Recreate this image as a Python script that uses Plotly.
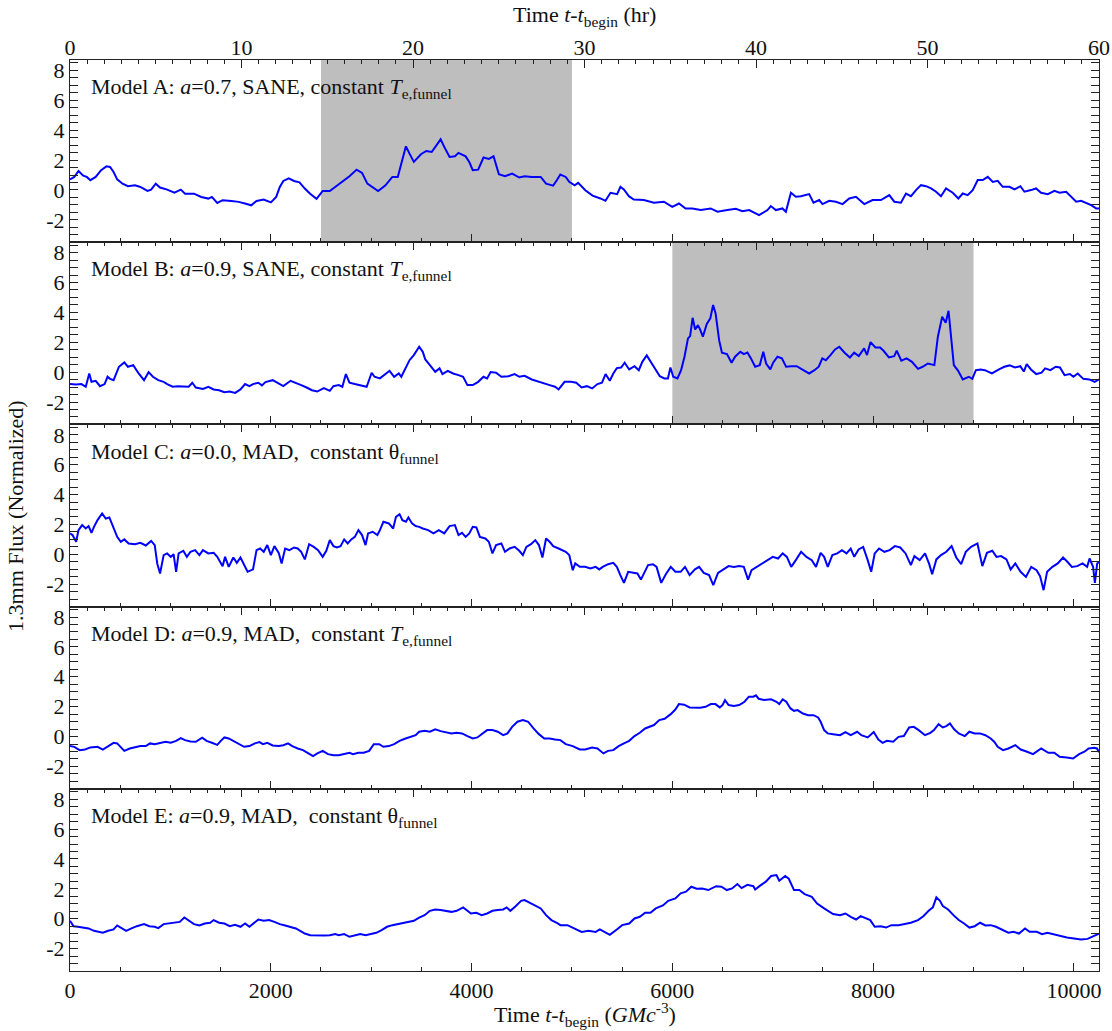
import plotly.graph_objects as go
from plotly.subplots import make_subplots

# Time axis limits: simulation units (GM/c^3) on the bottom, hours on the top
T_MAX = 10250.0
HR_MAX = 60.0
Y_RANGE = [-3.5, 8.7]

# ---------------- Model A ----------------
t_a = [0, 43, 85, 132, 167, 203, 256, 310, 363, 399, 434, 470, 523, 577, 648, 701, 772, 808, 854, 897,
       968, 1040, 1104, 1146, 1235, 1307, 1378, 1413, 1467, 1520, 1609, 1680, 1752, 1805, 1858, 1930, 2001, 2054, 2090, 2125,
       2179, 2232, 2286, 2339, 2392, 2456, 2481, 2517, 2588, 2642, 2713, 2784, 2855, 2909, 2962, 3069, 3140, 3211, 3265, 3300,
       3346, 3382, 3425, 3496, 3549, 3603, 3656, 3692, 3728, 3781, 3834, 3870, 3941, 3977, 4012, 4066, 4119, 4172, 4219, 4272,
       4333, 4404, 4475, 4528, 4600, 4689, 4742, 4813, 4849, 4884, 4938, 4973, 5027, 5062, 5133, 5205,
       5284, 5334, 5384, 5450, 5483, 5517, 5567, 5616, 5716, 5816, 5916, 5999, 6066, 6132, 6199, 6283, 6382, 6449, 6548, 6632,
       6698, 6765, 6864, 6948, 6981, 7031, 7097, 7131, 7181, 7230, 7280, 7330, 7363, 7406, 7463, 7496, 7563, 7629, 7696, 7762,
       7829, 7912, 7995, 8078, 8161, 8211, 8277, 8327, 8377, 8427, 8477, 8527, 8577, 8627, 8676, 8726, 8793, 8849, 8893, 8942,
       8992, 9042, 9092, 9142, 9192, 9241, 9291, 9358, 9408, 9467, 9507, 9573, 9623, 9673, 9740, 9806, 9856, 9923, 9973, 10023,
       10072, 10122, 10172, 10222, 10250]
flux_a = [0.70, 0.87, 1.27, 0.96, 0.87, 0.65, 0.87, 1.32, 1.58, 1.54, 1.20, 0.71, 0.42, 0.25, 0.31, 0.20, -0.07, 0.02, 0.42, 0.16,
          0.02, -0.18, 0.02, -0.25, -0.25, -0.47, -0.58, -0.47, -0.87, -0.69, -0.74, -0.80, -0.92, -1.03, -0.74, -0.65, -0.83, -0.47, 0.20, 0.60,
          0.78, 0.60, 0.51, 0.09, -0.25, -0.60, -0.38, -0.07, -0.07, 0.20, 0.54, 0.92, 1.36, 1.14, 0.42, -0.07, 0.29, 0.87, 0.87, 1.76,
          2.92, 2.43, 1.88, 2.39, 2.61, 2.54, 3.10, 3.39, 2.88, 2.21, 2.25, 2.48, 2.25, 1.88, 1.32, 1.36, 2.17, 2.08, 2.25, 1.05,
          0.92, 1.09, 0.83, 0.92, 0.87, 0.87, 0.42, 0.29, 0.65, 1.03, 0.87, 0.54, 0.31, 0.47, -0.02, -0.38,
          -0.57, -0.73, -0.19, -0.28, 0.21, 0.03, -0.42, -0.64, -0.68, -0.86, -0.79, -1.13, -0.91, -1.24, -1.24, -1.35, -1.24, -1.46, -1.35, -1.26,
          -1.42, -1.35, -1.69, -1.35, -1.08, -1.35, -1.24, -1.46, -0.19, -0.46, -0.42, -0.35, -0.28, -0.86, -0.68, -0.95, -0.73, -0.79, -0.95, -0.57,
          -0.46, -0.95, -0.68, -0.68, -0.35, -0.79, -0.86, -0.24, -0.42, -0.01, 0.32, 0.25, 0.10, -0.12, -0.42, 0.10, -0.19, -0.57, -0.24, -0.35,
          -0.01, 0.66, 0.66, 0.88, 0.54, 0.61, 0.21, 0.21, 0.03, 0.25, -0.12, -0.01, 0.10, -0.19, -0.28, -0.06, -0.19, -0.12, -0.46, -0.79,
          -0.73, -0.86, -1.02, -1.24, -1.24]

# ---------------- Model B ----------------
t_b = [0, 61, 114, 157, 192, 214, 256, 299, 345, 374, 399, 434, 488, 541, 577, 630, 684, 737, 783, 826,
       879, 933, 968, 1022, 1075, 1129, 1182, 1218, 1253, 1324, 1378, 1431, 1485, 1538, 1591, 1645, 1698, 1744, 1787, 1823,
       1876, 1912, 1947, 2019, 2072, 2125, 2197, 2250, 2303, 2357, 2410, 2463, 2528, 2588, 2624, 2677, 2713, 2748, 2784, 2837,
       2909, 2955, 3005, 3033, 3087, 3147, 3183, 3229, 3275, 3300, 3336, 3382, 3425, 3478, 3514, 3539, 3585, 3638, 3681, 3710,
       3763, 3816, 3870, 3916, 3959, 4012, 4066, 4119, 4155, 4190, 4244, 4297, 4368, 4429, 4475, 4528, 4600, 4671, 4724, 4778,
       4831, 4867,
       4927, 4991, 5043, 5096, 5149, 5201, 5254, 5299, 5335, 5377, 5412, 5447, 5490, 5525, 5570, 5623, 5666, 5701, 5745, 5791,
       5833, 5875, 5921, 5956, 5981, 6009, 6051, 6087, 6121, 6156, 6177, 6202, 6227, 6255, 6276, 6304, 6343, 6378, 6406, 6431,
       6466, 6494, 6544, 6590, 6625, 6677, 6713, 6748, 6783, 6825, 6871, 6906, 6934, 6976, 7004, 7047, 7091, 7133, 7186, 7239,
       7292, 7363, 7416, 7458, 7494, 7529, 7575, 7621, 7663, 7716, 7769, 7811, 7857, 7910, 7939, 7974, 8023, 8069, 8104, 8157,
       8210, 8235, 8281, 8334, 8387, 8447, 8493, 8546, 8610, 8645, 8688, 8723, 8751, 8776, 8804, 8847, 8893, 8953, 8988, 9024,
       9070, 9113, 9183, 9254, 9307, 9360, 9413, 9466, 9501, 9530, 9572, 9625, 9678, 9713, 9766, 9819, 9861, 9907, 9960, 9995,
       10038, 10094, 10154, 10207, 10250]
flux_b = [-0.80, -0.83, -0.80, -0.98, -0.09, -0.65, -0.58, -0.94, -0.80, -0.31, -0.45, -0.54, 0.36, 0.65, 0.36, 0.47, -0.09, -0.54, 0.00, -0.31,
          -0.54, -0.65, -0.80, -0.98, -0.94, -0.98, -0.98, -0.71, -1.03, -1.12, -0.98, -1.16, -1.21, -1.34, -1.30, -1.39, -1.16, -0.80, -0.94, -0.80,
          -0.71, -0.89, -0.67, -0.54, -0.76, -0.94, -0.58, -0.71, -0.87, -1.03, -1.21, -1.30, -1.07, -1.25, -0.94, -0.87, -0.98, -0.13, -0.71, -0.80,
          -0.94, -0.98, -0.04, -0.31, -0.42, -0.09, 0.09, -0.31, -0.09, -0.31, 0.18, 0.80, 1.14, 1.70, 1.36, 0.85, 0.47, 0.02, 0.25, -0.13,
          0.09, -0.09, -0.20, -0.31, -0.87, -0.87, -0.65, -0.31, -0.42, 0.00, -0.04, -0.31, -0.27, -0.13, -0.31, -0.25, -0.49, -0.65, -0.80, -0.87,
          -0.98, -1.16,
          -0.65, -0.65, -0.71, -1.03, -0.94, -1.09, -0.80, -0.71, -0.13, -0.58, -0.09, 0.27, 0.31, 0.63, 0.18, 0.40, 0.13, 0.69, 1.12, 0.63,
          0.13, -0.27, -0.42, -0.42, 0.31, -0.31, -0.42, 0.13, 1.03, 2.26, 2.41, 3.64, 2.86, 3.15, 2.86, 2.37, 3.22, 3.60, 4.49, 3.93,
          2.14, 1.30, 1.21, 0.63, 1.03, 1.36, 1.21, 1.32, 0.92, 0.36, 0.47, 1.36, 0.58, 0.18, 0.63, 1.03, 0.92, 0.36, 0.40, 0.40,
          0.18, -0.09, 0.13, 0.36, 0.92, 0.80, 1.14, 1.52, 1.70, 1.30, 0.98, 1.30, 1.07, 1.59, 1.14, 2.01, 1.65, 1.65, 1.43, 0.98,
          1.07, 1.43, 0.76, 0.92, 0.69, 0.22, 0.36, 0.58, 0.47, 2.37, 3.71, 3.31, 4.11, 2.14, 0.47, 0.09, -0.49, -0.31, -0.45, 0.13,
          0.18, 0.13, -0.09, 0.18, 0.36, 0.45, 0.31, 0.40, 0.04, 0.54, 0.18, -0.13, -0.04, 0.25, 0.13, 0.36, 0.31, -0.20, -0.13, -0.31,
          -0.09, -0.45, -0.49, -0.65, -0.49]

# ---------------- Model C ----------------
t_c = [0, 25, 61, 85, 121, 157, 185, 214, 239, 274, 320, 356, 392, 427, 470, 506, 541, 584, 648, 701,
       755, 808, 844, 869, 897, 933, 968, 1004, 1032, 1057, 1082, 1129, 1164, 1200, 1246, 1289, 1324, 1378, 1431, 1467,
       1520, 1545, 1581, 1627, 1662, 1698, 1734, 1769, 1823, 1858, 1894, 1930, 1965, 2001, 2036, 2079, 2108, 2143, 2186, 2232,
       2268, 2303, 2339, 2382, 2428, 2471, 2517, 2553, 2588, 2624, 2659, 2695, 2731, 2766, 2802, 2837, 2873, 2909, 2944, 2969,
       3015, 3062, 3087, 3122, 3176, 3219, 3247, 3283, 3311, 3346, 3371, 3407, 3443, 3478, 3514, 3567, 3621, 3674, 3728, 3781,
       3834, 3870, 3905, 3941, 3977, 4012, 4048, 4083, 4137, 4172, 4208, 4244, 4297, 4333, 4379, 4429, 4475, 4511, 4546, 4592,
       4635, 4671, 4706, 4742, 4778, 4813, 4867,
       4938, 4973, 5008, 5033, 5078, 5131, 5184, 5236, 5272, 5307, 5360, 5412, 5447, 5482, 5518, 5560, 5606, 5652, 5687, 5723,
       5758, 5807, 5843, 5889, 5935, 5984, 6030, 6083, 6126, 6172, 6225, 6267, 6313, 6366, 6408, 6455, 6507, 6560, 6613, 6666,
       6712, 6754, 6789, 6842, 6895, 6948, 7000, 7053, 7099, 7141, 7184, 7230, 7283, 7336, 7389, 7431, 7477, 7512, 7548, 7594,
       7643, 7689, 7735, 7777, 7812, 7855, 7901, 7946, 7981, 8016, 8059, 8112, 8164, 8217, 8270, 8323, 8376, 8411, 8464, 8517,
       8559, 8588, 8630, 8676, 8729, 8782, 8828, 8877, 8923, 8976, 9039, 9088, 9134, 9187, 9229, 9275, 9328, 9370, 9416, 9469,
       9522, 9575, 9628, 9663, 9698, 9733, 9786, 9839, 9892, 9935, 9980, 10033, 10086, 10132, 10156, 10191, 10209, 10232, 10250]
flux_c = [1.40, 1.29, 0.84, 1.62, 1.96, 1.73, 1.89, 1.44, 1.84, 2.29, 2.74, 2.40, 2.47, 1.84, 1.17, 0.84, 1.00, 0.73, 0.68, 0.77,
          0.59, 0.90, 0.62, -0.61, -1.28, -0.05, 0.06, -0.17, 0.01, -1.17, 0.06, 0.24, -0.17, 0.17, 0.28, -0.05, 0.28, 0.06, 0.10, -0.17,
          -0.79, -0.17, -0.84, -0.21, -0.57, -0.21, -0.66, -1.17, -1.01, 0.28, 0.39, 0.17, 0.62, -0.05, 0.55, 0.10, -0.61, 0.39, 0.28, 0.46,
          0.39, 0.17, -0.34, 0.68, 0.50, 0.28, -0.17, 0.24, 0.95, 0.55, 0.46, 0.55, 1.00, 0.73, 1.00, 1.17, 1.62, 1.29, 0.62, 1.40,
          1.51, 1.29, 1.62, 2.18, 2.07, 1.73, 2.51, 2.69, 2.29, 2.18, 2.47, 2.07, 1.89, 1.84, 1.73, 1.62, 1.40, 1.62, 1.40, 1.89,
          1.96, 1.29, 1.44, 1.17, 1.40, 1.84, 1.80, 1.17, 1.06, 0.84, 0.06, 0.62, 0.73, 0.17, 0.39, 0.50, 0.24, -0.05, 0.50, 0.68,
          0.95, 0.62, -0.21, 1.06, 0.84, 0.55, 0.39,
          0.17, -0.05, -1.06, -0.61, -0.84, -0.84, -0.95, -0.84, -1.01, -0.84, -0.66, -0.57, -0.84, -1.39, -1.91, -1.17, -1.24, -1.28, -1.69, -1.24,
          -0.72, -0.66, -0.84, -1.91, -1.33, -0.84, -1.17, -1.17, -0.84, -1.39, -1.01, -0.84, -1.24, -1.39, -2.06, -1.24, -1.01, -0.79, -0.84, -0.79,
          -0.84, -1.69, -1.06, -0.84, -0.66, -0.43, -0.17, -0.28, 0.06, -0.17, -0.84, -0.39, 0.17, -0.17, -0.39, -0.84, 0.10, -0.17, -0.84, -0.05,
          0.06, 0.28, 0.06, 0.39, -0.17, 0.33, 0.50, -0.39, -1.17, 0.06, 0.39, 0.17, 0.28, 0.55, 0.46, 0.06, -0.72, -0.12, -0.39, 0.06,
          -0.66, -1.33, -0.34, -0.05, 0.17, 0.55, -0.21, -0.66, 0.17, 0.50, 0.73, -0.79, 0.10, 0.24, -0.17, -0.12, -0.34, -1.01, -0.61, -1.17,
          -1.51, -0.84, -1.06, -1.46, -2.40, -1.17, -0.84, -0.61, -0.21, -0.50, -0.84, -0.79, -0.61, -0.84, -0.28, -0.84, -1.91, -0.61, -0.50]

# ---------------- Model D ----------------
t_d = [0, 43, 96, 150, 203, 274, 327, 381, 434, 470, 513, 541, 595, 648, 701, 755, 797, 844, 897, 951,
       1004, 1057, 1104, 1146, 1200, 1253, 1317, 1360, 1413, 1467, 1502, 1538, 1581, 1627, 1680, 1734, 1787, 1841, 1887, 1922,
       1965, 2019, 2079, 2125, 2172, 2214, 2268, 2321, 2375, 2421, 2464, 2517, 2570, 2624, 2677, 2731, 2784, 2819, 2873, 2926,
       2980, 3026, 3080, 3122, 3176, 3229, 3283, 3336, 3390, 3443, 3478, 3532, 3585, 3638, 3692, 3745, 3799, 3852, 3905, 3959,
       4012, 4058, 4101, 4155, 4208, 4261, 4315, 4358, 4404, 4457, 4511, 4564, 4617, 4671, 4724, 4778, 4831,
       4885, 4938, 5008, 5078, 5131, 5201, 5254, 5314, 5359, 5412, 5465, 5518, 5570, 5623, 5676, 5729, 5782, 5817, 5870, 5923,
       5984, 6030, 6065, 6118, 6172, 6225, 6278, 6331, 6383, 6429, 6472, 6500, 6525, 6560, 6613, 6666, 6719, 6762, 6808, 6832,
       6860, 6913, 6984, 7037, 7065, 7099, 7135, 7177, 7212, 7248, 7300, 7353, 7406, 7452, 7477, 7512, 7548, 7601, 7671, 7724,
       7777, 7841, 7883, 7946, 8006, 8052, 8095, 8137, 8200, 8253, 8306, 8359, 8405, 8454, 8517, 8570, 8606, 8652, 8694, 8729,
       8765, 8807, 8853, 8913, 8959, 9012, 9065, 9118, 9171, 9206, 9241, 9294, 9347, 9417, 9470, 9534, 9593, 9674, 9745, 9805,
       9858, 9928, 9992, 10052, 10105, 10147, 10203, 10230, 10250]
flux_d = [-0.64, -0.69, -0.91, -0.87, -0.73, -0.69, -0.87, -0.64, -0.42, -0.46, -0.80, -0.96, -0.80, -0.73, -0.64, -0.64, -0.46, -0.51, -0.42, -0.35,
          -0.42, -0.29, -0.11, -0.24, -0.33, -0.35, -0.08, -0.29, -0.42, -0.56, -0.29, -0.06, -0.13, -0.29, -0.46, -0.69, -0.64, -0.46, -0.37, -0.51,
          -0.42, -0.60, -0.64, -0.58, -0.46, -0.64, -0.80, -0.91, -1.13, -1.31, -1.13, -0.96, -1.18, -1.25, -1.25, -1.18, -1.09, -1.18, -1.09, -1.09,
          -0.96, -0.51, -0.51, -0.69, -0.64, -0.51, -0.29, -0.15, -0.02, 0.09, 0.32, 0.39, 0.32, 0.48, 0.36, 0.27, 0.21, 0.25, 0.21, 0.03,
          -0.13, -0.06, 0.16, 0.43, 0.43, 0.32, 0.09, 0.21, 0.65, 0.99, 1.10, 0.99, 0.54, 0.16, -0.13, -0.13, -0.20,
          -0.24, -0.51, -0.64, -0.87, -0.87, -0.73, -0.80, -1.13, -0.96, -0.91, -0.64, -0.46, -0.29, 0.03, 0.25, 0.54, 0.70, 0.77, 1.10, 1.19,
          1.50, 1.81, 2.17, 2.13, 1.95, 1.95, 1.93, 1.99, 2.17, 2.17, 1.95, 2.11, 2.44, 2.11, 2.04, 2.11, 2.33, 2.67, 2.67, 2.76,
          2.53, 2.44, 2.49, 2.33, 2.17, 2.49, 2.33, 1.88, 1.72, 1.77, 1.54, 1.43, 1.43, 1.28, 0.99, 0.43, 0.21, 0.16, 0.09, 0.30,
          0.09, 0.32, 0.09, -0.06, 0.30, -0.20, -0.42, -0.29, -0.35, -0.02, 0.03, 0.61, 0.65, 0.43, 0.09, 0.25, 0.43, 0.83, 0.61, 0.70,
          0.88, 0.48, 0.21, 0.03, 0.32, 0.21, 0.21, 0.09, -0.13, -0.35, -0.69, -0.91, -0.80, -0.58, -0.87, -1.02, -1.18, -0.80, -1.09, -1.09,
          -1.36, -1.40, -1.47, -1.18, -1.02, -0.80, -0.76, -0.80, -1.05]

# ---------------- Model E ----------------
t_e = [0, 36, 78, 132, 185, 239, 292, 327, 381, 434, 470, 506, 559, 612, 666, 737, 790, 844, 879, 933,
       986, 1040, 1093, 1139, 1182, 1235, 1289, 1342, 1396, 1431, 1485, 1538, 1591, 1645, 1698, 1744, 1787, 1841, 1876, 1930,
       1983, 2036, 2090, 2143, 2197, 2250, 2293, 2339, 2392, 2463, 2535, 2588, 2642, 2677, 2731, 2784, 2837, 2891, 2944, 2998,
       3051, 3104, 3158, 3211, 3265, 3318, 3371, 3425, 3478, 3532, 3585, 3638, 3692, 3745, 3799, 3852, 3916, 3959, 3994, 4048,
       4101, 4155, 4208, 4261, 4315, 4350, 4386, 4439, 4493, 4528, 4582, 4635, 4689, 4742, 4795, 4849,
       4885, 4955, 5025, 5096, 5166, 5236, 5278, 5324, 5377, 5447, 5500, 5570, 5623, 5676, 5729, 5782, 5835, 5906, 5959, 6030,
       6083, 6136, 6189, 6242, 6295, 6359, 6436, 6489, 6542, 6595, 6648, 6690, 6747, 6807, 6825, 6878, 6931, 6984, 7037, 7065,
       7099, 7124, 7160, 7212, 7265, 7318, 7389, 7442, 7512, 7601, 7671, 7724, 7777, 7830, 7876, 7926, 7971, 8016, 8076, 8129,
       8182, 8253, 8323, 8376, 8447, 8500, 8553, 8595, 8630, 8666, 8694, 8747, 8800, 8853, 8906, 8959, 9012, 9065, 9118, 9171,
       9224, 9277, 9347, 9400, 9453, 9513, 9559, 9630, 9683, 9736, 9789, 9859, 9930, 10001, 10072, 10136, 10196, 10250]
flux_e = [-0.14, -0.50, -0.54, -0.59, -0.65, -0.81, -0.88, -0.94, -0.81, -0.72, -0.45, -0.59, -0.81, -0.65, -0.50, -0.36, -0.50, -0.54, -0.63, -0.36,
          -0.32, -0.27, -0.21, 0.08, -0.14, -0.36, -0.45, -0.32, -0.27, -0.09, -0.27, -0.32, -0.50, -0.41, -0.54, -0.32, -0.54, -0.21, -0.05, -0.14,
          -0.09, -0.21, -0.36, -0.45, -0.54, -0.65, -0.81, -0.99, -1.10, -1.12, -1.12, -1.10, -1.03, -1.10, -1.03, -1.21, -1.12, -1.03, -1.10, -1.03,
          -0.94, -0.76, -0.54, -0.43, -0.36, -0.32, -0.21, -0.14, 0.08, 0.24, 0.53, 0.62, 0.58, 0.53, 0.46, 0.53, 0.76, 0.53, 0.35, 0.40,
          0.24, 0.35, 0.53, 0.58, 0.62, 0.76, 0.53, 0.84, 1.20, 1.25, 1.07, 0.84, 0.69, 0.24, -0.09, -0.27,
          -0.43, -0.43, -0.65, -0.88, -0.81, -0.88, -0.72, -0.88, -1.08, -0.72, -0.43, -0.32, 0.02, 0.13, 0.40, 0.40, 0.69, 0.89, 1.20, 1.36,
          1.70, 1.81, 2.14, 2.01, 2.03, 1.92, 2.18, 2.14, 1.92, 2.03, 2.32, 2.05, 2.27, 2.18, 1.96, 2.23, 2.48, 2.86, 2.92, 2.54,
          2.70, 2.86, 2.68, 1.92, 1.92, 1.65, 1.47, 1.02, 0.69, 0.31, 0.24, 0.35, 0.13, -0.05, 0.17, 0.02, -0.09, -0.54, -0.50, -0.59,
          -0.43, -0.43, -0.36, -0.27, -0.09, 0.17, 0.53, 0.76, 1.43, 1.20, 0.85, 0.62, 0.24, -0.09, -0.32, -0.59, -0.50, -0.27, -0.45, -0.43,
          -0.54, -0.72, -0.94, -0.88, -0.99, -0.65, -0.88, -0.88, -1.03, -0.94, -1.03, -1.17, -1.26, -1.32, -1.39, -1.35, -1.17, -1.00]

# Panel labels and highlighted time windows
labels = [
    "Model A: <i>a</i>=0.7, SANE, constant <i>T</i><sub>e,funnel</sub>",
    "Model B: <i>a</i>=0.9, SANE, constant <i>T</i><sub>e,funnel</sub>",
    "Model C: <i>a</i>=0.0, MAD,\u00a0 constant \u03b8<sub>funnel</sub>",
    "Model D: <i>a</i>=0.9, MAD,\u00a0 constant <i>T</i><sub>e,funnel</sub>",
    "Model E: <i>a</i>=0.9, MAD,\u00a0 constant \u03b8<sub>funnel</sub>",
]
shade_windows = {1: (2500, 5000), 2: (6000, 9000)}

y_tickvals = [-2, 0, 2, 4, 6, 8]
y_ticktext = ["-2", "0", "2", "4", "6", "8"]

series = [(t_a, flux_a), (t_b, flux_b), (t_c, flux_c), (t_d, flux_d), (t_e, flux_e)]

FONT = "Liberation Serif, Times New Roman, serif"
INK = "#222222"
TXT = "#111111"
FS = 22
N = len(series)

fig = make_subplots(rows=N, cols=1, shared_xaxes=True, vertical_spacing=0)

for i, (tt, ff) in enumerate(series, start=1):
    fig.add_trace(go.Scatter(x=tt, y=ff, mode="lines",
                             line=dict(color="#0000ff", width=2),
                             showlegend=False, hoverinfo="skip"),
                  row=i, col=1)
    if i in shade_windows:
        x0, x1 = shade_windows[i]
        fig.add_vrect(x0=x0, x1=x1, row=i, col=1, fillcolor="#bebebe",
                      opacity=1, line_width=0, layer="below")
    fig.add_annotation(text=labels[i - 1], x=0.018, y=0.845,
                       xref="x domain", yref="y domain", row=i, col=1,
                       xanchor="left", yanchor="middle", showarrow=False,
                       font=dict(family=FONT, size=FS, color=TXT))

# Simulation-time axes (bottom of each panel)
for i in range(1, N + 1):
    fig.update_xaxes(row=i, col=1, range=[0, T_MAX], tickmode="linear", tick0=0, dtick=2000,
                     tickformat="d",
                     ticks="inside", ticklen=8, tickwidth=1, tickcolor=INK,
                     minor=dict(tickmode="linear", tick0=0, dtick=500, ticks="inside",
                                ticklen=4, tickwidth=1, tickcolor=INK),
                     showline=True, linecolor=INK, linewidth=1, mirror=True,
                     showgrid=False, zeroline=False, automargin=False,
                     showticklabels=(i == N),
                     tickfont=dict(family=FONT, size=FS, color=TXT))
    fig.update_yaxes(row=i, col=1, range=Y_RANGE, tickmode="array",
                     tickvals=y_tickvals, ticktext=y_ticktext,
                     ticks="inside", ticklen=8, tickwidth=1, tickcolor=INK,
                     minor=dict(tickmode="linear", tick0=0, dtick=0.5, ticks="inside",
                                ticklen=4, tickwidth=1, tickcolor=INK),
                     showline=True, linecolor=INK, linewidth=1, mirror="allticks",
                     showgrid=False, zeroline=False, automargin=False,
                     tickfont=dict(family=FONT, size=FS, color=TXT))

# Hour axes along the top of each panel
for i in range(1, N + 1):
    ax_id = N + i
    fig.add_trace(go.Scatter(x=[None], y=[None], xaxis=f"x{ax_id}", yaxis=f"y{i}",
                             showlegend=False, hoverinfo="skip"))
    ax = dict(overlaying=f"x{i}", anchor=f"y{i}", side="top", range=[0, HR_MAX],
              tickmode="linear", tick0=0, dtick=10, ticks="inside", ticklen=8,
              tickwidth=1, tickcolor=INK,
              minor=dict(tickmode="linear", tick0=0, dtick=1, ticks="inside",
                         ticklen=4, tickwidth=1, tickcolor=INK),
              showline=False, showgrid=False, zeroline=False, automargin=False,
              showticklabels=(i == 1),
              tickfont=dict(family=FONT, size=FS, color=TXT))
    fig.update_layout(**{f"xaxis{ax_id}": ax})

# Axis titles
title_font = dict(family=FONT, size=FS, color=TXT)
fig.add_annotation(text="Time <i>t</i>-<i>t</i><sub>begin</sub> (<i>GMc</i><sup>-3</sup>)",
                   xref="paper", yref="paper", x=0.5, y=-0.0659,
                   xanchor="center", yanchor="bottom", showarrow=False,
                   borderpad=0, font=title_font)
fig.add_annotation(text="Time <i>t</i>-<i>t</i><sub>begin</sub> (hr)",
                   xref="paper", yref="paper", x=0.5, y=1.0648,
                   xanchor="center", yanchor="top", showarrow=False,
                   borderpad=0, font=title_font)
fig.add_annotation(text="1.3mm Flux (Normalized)", xref="paper", yref="paper",
                   x=-0.053, y=0.5, textangle=-90, showarrow=False,
                   xanchor="center", yanchor="middle", font=title_font)

fig.update_layout(width=1112, height=1031,
                  margin=dict(l=70, r=13, t=60, b=60),
                  paper_bgcolor="white", plot_bgcolor="white",
                  font=dict(family=FONT, size=FS, color=TXT))

fig.write_html("out.html")
